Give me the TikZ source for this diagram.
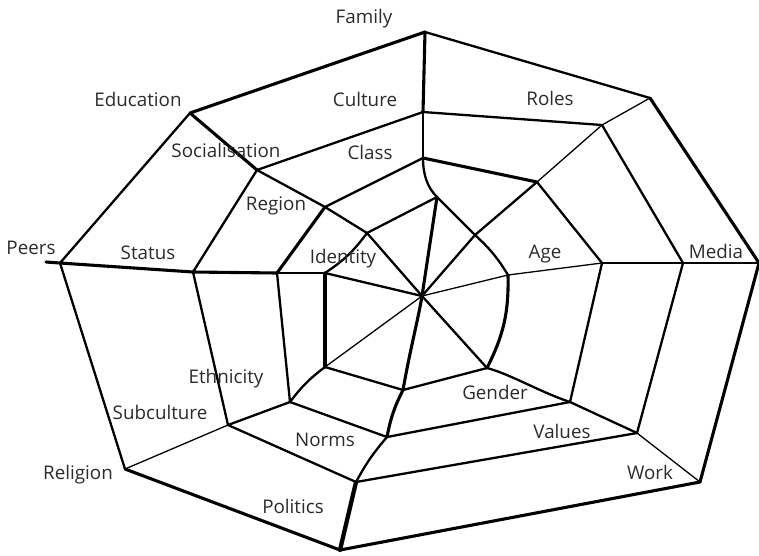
\documentclass[tikz,border=0pt]{standalone}
\usepackage{fontspec}
\setmainfont{Open Sans}
\definecolor{labelgray}{HTML}{2B2B2B}
\begin{document}
\begin{tikzpicture}[x=1pt,y=-1pt,
  web/.style={line width=2.3pt, line join=round, line cap=round, draw=black},
  fine web/.style={web, line width=1.3pt},
  thick web/.style={web, line width=3.1pt},
  heavy web/.style={web, line width=4.3pt},
  lbl/.style={font=\fontsize{18.8}{20}\selectfont, text=labelgray, inner sep=0pt,
              text height=12pt, text depth=0pt}]
\useasboundingbox (0,0) rectangle (759,555);

% centre
\coordinate (c) at (422,296);
% ring 1
\coordinate (a1) at (437,197);
\coordinate (b1) at (475,235);
\coordinate (r1) at (508,275);
\coordinate (w1) at (487,368);
\coordinate (d1) at (403,390);
\coordinate (l1) at (325,367);
\coordinate (p1) at (325,273);
\coordinate (e1) at (367,233);
% ring 2
\coordinate (a2) at (423,158);
\coordinate (b2) at (537,182);
\coordinate (r2) at (602,263);
\coordinate (w2) at (570,402);
\coordinate (d2) at (387,437);
\coordinate (l2) at (290,402);
\coordinate (p2) at (277,273);
\coordinate (e2) at (325,207);
% ring 3
\coordinate (a3) at (423,112);
\coordinate (b3) at (602,125);
\coordinate (r3) at (683,263);
\coordinate (w3) at (637,433);
\coordinate (d3) at (356,482);
\coordinate (l3) at (228,425);
\coordinate (p3) at (193,272);
\coordinate (e3) at (257,170);
% ring 4
\coordinate (a4) at (425,32);
\coordinate (b4) at (650,98);
\coordinate (r4) at (759,263);
\coordinate (w4) at (700,482);
\coordinate (d4) at (340,550);
\coordinate (l4) at (125,469);
\coordinate (p4) at (60,263);
\coordinate (e4) at (190,113);
\coordinate (ptail) at (46,262);

% outer ring
\draw[web] (a4) -- (b4);
\draw[thick web] (b4) -- (r4);
\draw[thick web] (r4) -- (w4);
\draw[thick web] (w4) -- (d4);
\draw[thick web] (d4) -- (l4);
\draw[web] (l4) -- (p4);
\draw[web] (p4) -- (e4);
\draw[thick web] (e4) -- (a4);
\draw[thick web] (ptail) -- (p4);

% ring 3
\draw[web] (a3) -- (b3);
\draw[web] (b3) -- (r3);
\draw[web] (r3) -- (w3);
\draw[web] (w3) -- (d3);
\draw[web] (d3) -- (l3);
\draw[web] (l3) -- (p3);
\draw[web] (p3) -- (e3);
\draw[web] (e3) -- (a3);

% ring 2
\draw[thick web] (a2) -- (b2);
\draw[web] (b2) -- (r2);
\draw[web] (r2) -- (w2);
\draw[web] (w2) -- (d2);
\draw[web] (d2) -- (l2);
\draw[web] (l2) -- (p2);
\draw[thick web] (p2) -- (e2);
\draw[web] (e2) -- (a2);

% ring 1
\draw[web] (a1) -- (b1);
\draw[web] (b1) to[bend left=8] (r1);
\draw[thick web] (r1) to[bend left=14] (w1);
\draw[web] (w1) -- (d1);
\draw[web] (d1) -- (l1);
\draw[thick web] (l1) -- (p1);
\draw[web] (p1) to[bend right=10] (e1);
\draw[web] (e1) -- (a1);

% spokes, outer to ring 3
\draw[thick web] (a4) -- (a3);
\draw[fine web] (b4) -- (b3);
\draw[web] (r4) -- (r3);
\draw[fine web] (w4) -- (w3);
\draw[heavy web] (d4) -- (d3);
\draw[fine web] (l4) -- (l3);
\draw[thick web] (p4) -- (p3);
\draw[thick web] (e4) -- (e3);

% spokes, ring 3 to ring 2
\draw[web] (a3) -- (a2);
\draw[fine web] (b3) -- (b2);
\draw[web] (r3) -- (r2);
\draw[web] (w3) -- (w2);
\draw[web] (d3) to[bend left=6] (d2);
\draw[web] (l3) -- (l2);
\draw[thick web] (p3) -- (p2);
\draw[web] (e3) -- (e2);

% spokes, ring 2 to ring 1
\draw[web] (a2) .. controls (423,176) and (428,188) .. (a1);
\draw[web] (b2) -- (b1);
\draw[fine web] (r2) -- (r1);
\draw[web] (w2) .. controls (540,392) and (510,374) .. (w1);
\draw[thick web] (d2) to[bend left=8] (d1);
\draw[web] (l2) to[bend left=8] (l1);
\draw[web] (p2) -- (p1);
\draw[web] (e2) -- (e1);

% spokes, ring 1 to centre
\draw[thick web] (c) -- (a1);
\draw[web] (c) -- (b1);
\draw[fine web] (c) -- (r1);
\draw[web] (c) -- (w1);
\draw[thick web] (c) .. controls (418,320) and (410,350) .. (d1);
\draw[fine web] (c) -- (l1);
\draw[web] (c) -- (p1);
\draw[web] (c) -- (e1);

% labels
\node[lbl] (family) at (364,17) {Family};
\node[lbl] (education) at (138,100) {Education};
\node[lbl] (culture) at (365,100) {Culture};
\node[lbl] (roles) at (550,99) {Roles};
\node[lbl] (socialisation) at (226,151) {Socialisation};
\node[lbl] (class) at (370,153) {Class};
\node[lbl] (region) at (276,204) {Region};
\node[lbl] (identity) at (343,257) {Identity};
\node[lbl] (age) at (545,252) {Age};
\node[lbl] (peers) at (31,248) {Peers};
\node[lbl] (status) at (148,253) {Status};
\node[lbl] (media) at (716,252) {Media};
\node[lbl] (ethnicity) at (226,377) {Ethnicity};
\node[lbl] (subculture) at (160,413) {Subculture};
\node[lbl] (gender) at (495,393) {Gender};
\node[lbl] (norms) at (325,440) {Norms};
\node[lbl] (values) at (562,432) {Values};
\node[lbl] (religion) at (78,473) {Religion};
\node[lbl] (work) at (650,473) {Work};
\node[lbl] (politics) at (293,507) {Politics};
\end{tikzpicture}
\end{document}
